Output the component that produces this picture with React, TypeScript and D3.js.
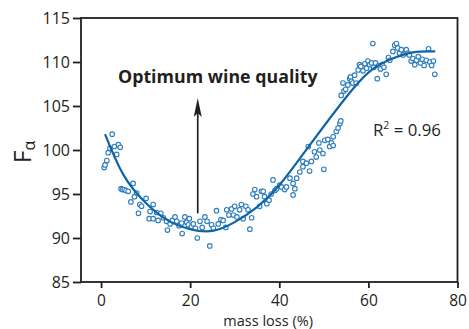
import React, { useEffect, useRef } from 'react';
import * as d3 from 'd3';

// measured points: mass loss (%) and F-alpha
const massLoss = [
  0.7, 0.9, 1.3, 1.6, 2.0, 2.5, 3.0, 3.5, 3.9, 4.3, 4.5, 4.8, 5.2, 5.6, 6.1, 6.7, 7.2, 7.5, 8.0, 8.4,
  8.7, 9.1, 10.1, 10.8, 11.0, 11.7, 11.7, 12.5, 12.8, 13.4, 14.0, 14.7, 14.9, 15.5, 16.0, 16.6, 17.0, 17.5, 18.1, 18.2,
  18.8, 19.2, 19.6, 19.8, 20.3, 20.7, 21.2, 21.6, 22.2, 22.7, 23.3, 23.8, 24.4, 24.8, 25.2, 25.9, 26.3, 26.9, 27.4, 28.0,
  28.2, 28.7, 29.3, 29.7, 30.0, 30.5, 31.1, 31.5, 31.9, 32.5, 33.0, 33.4, 33.8, 34.1, 34.5, 34.9, 35.6, 36.0, 36.4, 36.7,
  37.2, 37.7, 38.2, 38.6, 39.0, 39.4, 40.1, 40.5, 41.2, 41.6, 42.4, 43.1, 43.1, 43.5, 43.9, 44.6, 45.3, 45.3, 46.1, 46.5,
  46.8, 47.2, 47.9, 48.3, 48.9, 49.1, 49.8, 50.0, 50.2, 50.9, 51.3, 51.7, 52.1, 52.1, 52.8, 53.2, 53.6, 53.8, 53.9, 54.3,
  54.5, 54.9, 55.4, 55.8, 56.0, 56.2, 56.5, 56.9, 57.3, 57.7, 58.0, 58.3, 58.8, 59.2, 59.6, 59.9, 60.3, 60.7, 61.0, 61.2,
  61.6, 62.0, 62.3, 62.7, 63.1, 63.5, 64.0, 64.5, 64.8, 65.5, 65.9, 66.3, 66.6, 67.0, 67.4, 67.8, 68.5, 68.9, 69.2, 69.6,
  70.0, 70.4, 70.8, 71.2, 71.7, 72.1, 72.5, 73.0, 73.5, 73.8, 74.2, 74.6, 74.9,
];
const fAlpha = [
  98.0, 98.3, 98.8, 99.7, 100.2, 101.8, 100.4, 99.5, 100.6, 100.3, 95.6, 95.5, 95.5, 95.4, 95.3, 94.1, 96.2, 94.7, 95.1, 92.8,
  93.8, 93.6, 94.5, 92.2, 93.0, 93.8, 92.2, 92.9, 92.0, 92.8, 92.3, 91.9, 90.9, 91.6, 92.0, 92.4, 91.9, 91.4, 91.7, 90.5,
  92.4, 91.8, 91.5, 92.2, 91.3, 91.6, 91.1, 90.0, 91.9, 91.2, 92.4, 91.9, 89.1, 91.5, 91.1, 93.1, 91.6, 92.1, 92.0, 91.2,
  93.2, 92.6, 93.3, 92.6, 93.6, 92.4, 93.2, 93.8, 92.2, 93.6, 93.2, 91.0, 92.3, 95.0, 95.5, 94.7, 93.6, 95.3, 95.3, 94.7,
  93.9, 94.3, 95.0, 96.6, 95.4, 95.6, 96.0, 95.8, 95.5, 95.8, 96.8, 94.9, 96.2, 95.6, 96.8, 97.5, 98.1, 98.7, 98.5, 100.4,
  97.6, 98.7, 99.8, 99.2, 100.8, 100.0, 99.6, 97.8, 101.1, 101.2, 100.4, 100.8, 100.5, 101.5, 102.1, 102.5, 103.0, 103.3, 106.2, 107.6,
  106.7, 106.9, 107.4, 108.1, 108.3, 107.8, 107.6, 108.5, 107.6, 109.1, 109.7, 109.5, 109.0, 109.8, 109.3, 110.1, 109.7, 109.9, 112.1, 109.4,
  109.9, 108.1, 109.6, 109.2, 109.7, 109.4, 108.6, 110.5, 110.2, 111.2, 111.9, 112.1, 111.6, 111.0, 111.4, 110.8, 111.4, 111.0, 110.8, 110.1,
  110.4, 109.7, 110.2, 110.6, 109.9, 110.3, 109.6, 110.2, 111.5, 110.0, 109.6, 110.1, 108.6,
];

// fitted curve
const fitX = [0.9, 5, 10, 15, 20, 25, 30, 35, 40, 45, 50, 55, 60, 65, 70, 75];
const fitY = [101.8, 97.2, 94.0, 92.0, 91.0, 90.8, 91.8, 93.5, 96.0, 99.3, 102.7, 106.0, 108.8, 110.3, 111.1, 111.2];

const xTicks = [0, 20, 40, 60, 80];
const yTicks = [85, 90, 95, 100, 105, 110, 115];

// arrow marking optimum quality (x, y from, y to)
const arrowX = 21.7;
const arrowY = [92.8, 105.9];

const W = 469;
const H = 329;
const margin = { top: 18, right: 11.5, bottom: 47, left: 81 };
const ink = '#231f20';
const font = '"Open Sans", "Liberation Sans", sans-serif';

export default function App() {
  const xAxis = useRef<SVGGElement>(null);
  const yAxis = useRef<SVGGElement>(null);

  const x = d3.scaleLinear().domain([-4.5, 80]).range([margin.left, W - margin.right]);
  const y = d3.scaleLinear().domain([85, 115]).range([H - margin.bottom, margin.top]);

  const line = d3
    .line<number>()
    .x((d, i) => x(fitX[i]))
    .y(d => y(d))
    .curve(d3.curveNatural);

  useEffect(() => {
    const gx = d3.select(xAxis.current!);
    gx.call(d3.axisBottom(x).tickValues(xTicks).tickSize(6).tickPadding(7).tickFormat(d3.format('d')));
    gx.select('.domain').remove();
    gx.selectAll('line').attr('stroke', ink).attr('stroke-width', 1.8);
    gx.selectAll('text').attr('font-size', 15.5).attr('font-family', font).attr('fill', ink);

    const gy = d3.select(yAxis.current!);
    gy.call(d3.axisLeft(y).tickValues(yTicks).tickSize(8).tickPadding(3).tickFormat(d3.format('d')));
    gy.select('.domain').remove();
    gy.selectAll('line').attr('stroke', ink).attr('stroke-width', 1.8);
    gy.selectAll('text').attr('font-size', 16).attr('font-family', font).attr('fill', ink);
  }, []);

  const ax = x(arrowX);
  const tipY = y(arrowY[1]);
  const head = `M${ax},${tipY} L${ax + 4},${tipY + 19} L${ax},${tipY + 15} L${ax - 4},${tipY + 19} Z`;

  return (
    <svg width={W} height={H} style={{ position: 'absolute', left: 0, top: 0, background: '#fff' }}>
      <g ref={xAxis} transform={`translate(0, ${H - margin.bottom})`} />
      <g ref={yAxis} transform={`translate(${margin.left}, 0)`} />
      <rect
        x={margin.left}
        y={margin.top}
        width={W - margin.left - margin.right}
        height={H - margin.top - margin.bottom}
        fill="none"
        stroke={ink}
        strokeWidth={1.8}
      />

      <g>
        {massLoss.map((m, i) => (
          <circle key={i} cx={x(m)} cy={y(fAlpha[i])} r={2.3} fill="#fff" stroke="#2e7dbd" strokeWidth={1.1} />
        ))}
      </g>
      <path d={line(fitY) || ''} fill="none" stroke="#0f64a6" strokeWidth={2.2} />

      <line x1={ax} x2={ax} y1={y(arrowY[0])} y2={tipY + 14} stroke={ink} strokeWidth={1.7} />
      <path d={head} fill={ink} />

      <text x={118} y={83} fontFamily={font} fontWeight="bold" fontSize={17.8} fill={ink}>
        Optimum wine quality
      </text>
      <text x={373} y={136} fontFamily={font} fontSize={16.8} fill={ink}>
        R<tspan fontSize={10.5} dy={-7}>2</tspan>
        <tspan dy={7}> = 0.96</tspan>
      </text>

      <text transform="translate(31, 163) rotate(-90)" fontFamily={font} fontSize={24} fill={ink}>
        F<tspan fontSize={16} dy={4}>α</tspan>
      </text>
      <text
        x={x(37.5)}
        y={326}
        textAnchor="middle"
        fontFamily={font}
        fontSize={14.5}
        fill={ink}
      >
        mass loss (%)
      </text>
    </svg>
  );
}
